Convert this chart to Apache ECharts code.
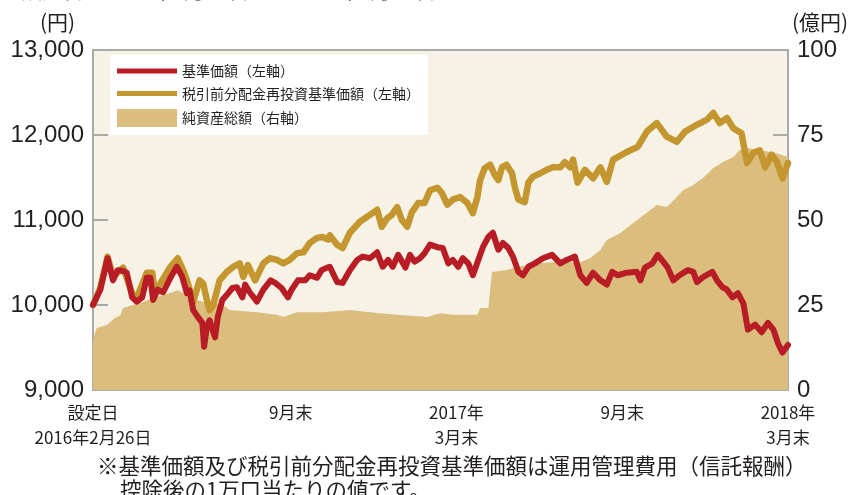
<!DOCTYPE html>
<html>
<head>
<meta charset="utf-8">
<script src="https://cdn.jsdelivr.net/npm/echarts@6/dist/echarts.min.js"></script>
<style>
  html, body { margin: 0; padding: 0; background: #fff; }
  #main { width: 849px; height: 495px; }
</style>
</head>
<body>
<div id="main"></div>
<script>
// 凡例・系列名
const seriesNames = ['基準価額（左軸）', '税引前分配金再投資基準価額（左軸）', '純資産総額（右軸）'];

// 横軸：設定日(2016/2/26)からの経過日数
const tickDays = [0, 217, 399, 581, 763];
const tickLabels = ['設定日\n2016年2月26日', '9月末', '2017年\n3月末', '9月末', '2018年\n3月末'];

// 基準価額（円）
const navDays = [
  0, 8, 16, 22, 27, 33, 37, 43, 48, 54,
  59, 63, 66, 71, 77, 85, 92, 98, 103, 106,
  110, 115, 120, 122, 125, 128, 134, 137, 142, 147,
  153, 158, 164, 167, 172, 180, 187, 195, 200, 207,
  214, 218, 225, 233, 238, 246, 251, 257, 260, 268,
  274, 282, 290, 296, 304, 312, 318, 324, 329, 335,
  343, 348, 353, 359, 364, 370, 378, 384, 390, 395,
  401, 406, 412, 417, 423, 428, 434, 439, 445, 450,
  456, 461, 467, 472, 478, 485, 494, 504, 513, 520,
  529, 535, 542, 549, 557, 564, 570, 576, 586, 597,
  601, 606, 614, 620, 626, 631, 637, 644, 653, 659,
  663, 670, 680, 685, 691, 696, 702, 708, 714, 719,
  727, 734, 741, 747, 752, 757, 763
];
const navValues = [
  10000, 10180, 10550, 10290, 10410, 10400, 10380, 10090, 10040, 10090,
  10320, 10320, 10060, 10180, 10150, 10320, 10450, 10330, 10140, 10170,
  9940, 9860, 9790, 9510, 9740, 9820, 9620, 9860, 10060, 10120,
  10200, 10210, 10090, 10240, 10150, 10040, 10180, 10290, 10260, 10200,
  10090, 10180, 10290, 10290, 10350, 10320, 10410, 10440, 10450, 10270,
  10260, 10410, 10530, 10570, 10550, 10620, 10450, 10530, 10450, 10590,
  10440, 10590, 10510, 10550, 10610, 10710, 10680, 10670, 10490, 10530,
  10450, 10550, 10490, 10350, 10530, 10680, 10800, 10850, 10650, 10730,
  10670, 10570, 10390, 10350, 10450, 10490, 10550, 10590, 10490, 10530,
  10570, 10350, 10260, 10380, 10290, 10240, 10390, 10350, 10380, 10390,
  10290, 10440, 10490, 10590, 10510, 10440, 10290, 10350, 10410, 10390,
  10270, 10330, 10390, 10290, 10210, 10180, 10090, 10140, 10020, 9710,
  9770, 9680, 9790, 9710, 9550, 9440, 9530
];

// 税引前分配金再投資基準価額（円）
const reinvDays = [
  0, 8, 16, 22, 33, 43, 48, 59, 65, 68,
  71, 85, 93, 99, 104, 110, 117, 121, 125, 128,
  132, 139, 147, 154, 161, 165, 170, 178, 187, 194,
  202, 209, 216, 224, 231, 238, 246, 252, 258, 260,
  268, 274, 282, 293, 304, 312, 317, 323, 328, 334,
  339, 345, 350, 357, 364, 370, 378, 383, 389, 395,
  403, 411, 417, 422, 425, 430, 436, 441, 445, 449,
  454, 460, 463, 467, 474, 478, 483, 491, 498, 505,
  513, 518, 524, 527, 532, 540, 549, 557, 564, 571,
  586, 598, 608, 619, 630, 641, 650, 663, 674, 681,
  688, 696, 703, 712, 718, 725, 732, 738, 745, 751,
  757, 763
];
const reinvValues = [
  10000, 10200, 10570, 10330, 10440, 10140, 10080, 10380, 10380, 10140,
  10200, 10450, 10550, 10410, 10260, 10040, 10290, 10250, 10060, 9940,
  10000, 10290, 10390, 10450, 10490, 10330, 10470, 10290, 10490, 10550,
  10530, 10490, 10530, 10610, 10620, 10730, 10790, 10800, 10770, 10820,
  10710, 10670, 10850, 10980, 11060, 11120, 10920, 11020, 11060, 11150,
  11000, 10920, 11090, 11200, 11200, 11350, 11380, 11320, 11180, 11240,
  11270, 11200, 11080, 11270, 11470, 11610, 11650, 11530, 11470, 11620,
  11650, 11550, 11390, 11240, 11210, 11440, 11510, 11550, 11590, 11620,
  11620, 11680, 11620, 11710, 11440, 11590, 11490, 11620, 11450, 11710,
  11800, 11860, 12040, 12140, 11980, 11920, 12040, 12120, 12180, 12260,
  12140, 12200, 12080, 12020, 11670, 11790, 11820, 11620, 11770, 11680,
  11490, 11670
];

// 純資産総額（億円）
const assetDays = [
  0, 4, 15, 19, 24, 30, 33, 44, 55, 66,
  77, 88, 93, 99, 106, 121, 143, 150, 180, 202,
  209, 224, 252, 282, 315, 334, 367, 381, 395, 422,
  425, 434, 438, 454, 465, 494, 505, 535, 546, 557,
  564, 579, 593, 608, 619, 630, 641, 648, 659, 670,
  681, 692, 703, 710, 718, 732, 749, 763
];
const assetValues = [
  14.7, 18.2, 19.1, 20.0, 21.2, 22.0, 24.1, 25.0, 25.9, 27.1,
  27.9, 28.8, 29.4, 28.5, 27.1, 25.9, 25.0, 23.5, 22.9, 22.1,
  21.5, 22.9, 22.9, 23.5, 22.6, 22.1, 21.5, 22.6, 22.1, 22.1,
  24.1, 24.1, 34.7, 35.3, 36.2, 37.4, 37.6, 37.6, 38.8, 41.2,
  44.1, 46.2, 49.1, 52.1, 54.4, 53.8, 56.8, 58.8, 60.3, 62.4,
  65.3, 67.1, 68.5, 70.6, 71.2, 70.6, 69.7, 68.5
];

const FONT_JP = '"Noto Sans CJK JP", sans-serif';
const FONT_NUM = '"Liberation Sans", Arial, sans-serif';
const TEXT_COLOR = '#231f20';
const RED = '#b81c25';
const GOLD = '#c4962f';
const SAND = '#dbbd7e';
const LINE_ICON = 'path://M0,0H60V5H0Z';

function zip(xs, ys) {
  return xs.map(function (x, i) { return [x, ys[i]]; });
}

const chart = echarts.init(document.getElementById('main'));

const option = {
  animation: false,
  grid: {
    left: 93,
    right: 61,
    top: 50,
    bottom: 105,
    show: true,
    backgroundColor: '#f6f3e6',
    borderColor: '#a9a9a9',
    borderWidth: 2
  },
  legend: {
    left: 110,
    top: 55,
    orient: 'vertical',
    backgroundColor: '#fff',
    padding: [9, 8, 8, 7],
    itemWidth: 60,
    itemHeight: 18,
    itemGap: 8.5,
    itemTextGap: 8,
    selectedMode: false,
    textStyle: { fontSize: 14, fontFamily: FONT_JP, color: TEXT_COLOR },
    data: [
      { name: seriesNames[0], icon: LINE_ICON },
      { name: seriesNames[1], icon: LINE_ICON },
      { name: seriesNames[2], icon: 'rect' }
    ]
  },
  xAxis: {
    type: 'value',
    min: 0,
    max: 763,
    axisLine: { show: false },
    axisTick: { show: false },
    splitLine: { show: false },
    axisLabel: {
      customValues: tickDays,
      formatter: function (v) { return tickLabels[tickDays.indexOf(v)]; },
      fontSize: 17,
      lineHeight: 25,
      margin: 10,
      fontFamily: FONT_JP,
      color: TEXT_COLOR
    }
  },
  yAxis: [
    {
      type: 'value',
      min: 9000,
      max: 13000,
      interval: 1000,
      axisLine: { show: false },
      axisTick: { show: true, inside: true, length: 15, lineStyle: { color: '#a9a9a9', width: 2 } },
      splitLine: { show: false },
      axisLabel: {
        margin: 9,
        fontSize: 24,
        fontFamily: FONT_NUM,
        color: TEXT_COLOR,
        formatter: function (v) { return v.toLocaleString('en-US'); }
      }
    },
    {
      type: 'value',
      position: 'right',
      min: 0,
      max: 100,
      interval: 25,
      axisLine: { show: false },
      axisTick: { show: true, inside: true, length: 15, lineStyle: { color: '#a9a9a9', width: 2 } },
      splitLine: { show: false },
      axisLabel: {
        margin: 9,
        fontSize: 24,
        fontFamily: FONT_NUM,
        color: TEXT_COLOR
      }
    }
  ],
  series: [
    {
      name: seriesNames[2],
      type: 'line',
      yAxisIndex: 1,
      symbol: 'none',
      data: zip(assetDays, assetValues),
      itemStyle: { color: SAND },
      lineStyle: { width: 0 },
      areaStyle: { color: SAND, opacity: 1 },
      z: 1
    },
    {
      name: seriesNames[1],
      type: 'line',
      symbol: 'none',
      data: zip(reinvDays, reinvValues),
      itemStyle: { color: GOLD },
      lineStyle: { color: GOLD, width: 6.5, join: 'round', cap: 'round' },
      z: 2
    },
    {
      name: seriesNames[0],
      type: 'line',
      symbol: 'none',
      data: zip(navDays, navValues),
      itemStyle: { color: RED },
      lineStyle: { color: RED, width: 6, join: 'round', cap: 'round' },
      z: 3
    }
  ],
  graphic: [
    {
      type: 'text', left: 0, top: -20,
      style: { text: '（設定日（2016年2月26日）～2018年3月30日）', fontSize: 21, fontFamily: FONT_JP, fill: TEXT_COLOR }
    },
    {
      type: 'text', left: 40, top: 12,
      style: { text: '(円)', fontSize: 21, fontFamily: FONT_JP, fill: TEXT_COLOR }
    },
    {
      type: 'text', left: 792, top: 12,
      style: { text: '(億円)', fontSize: 21, fontFamily: FONT_JP, fill: TEXT_COLOR }
    },
    {
      type: 'text', left: 97, top: 455,
      style: { text: '※基準価額及び税引前分配金再投資基準価額は運用管理費用（信託報酬）', fontSize: 21.5, fontFamily: FONT_JP, fill: TEXT_COLOR }
    },
    {
      type: 'text', left: 120, top: 479,
      style: { text: '控除後の1万口当たりの値です。', fontSize: 21.5, fontFamily: FONT_JP, fill: TEXT_COLOR }
    }
  ]
};

chart.setOption(option);
</script>
</body>
</html>
